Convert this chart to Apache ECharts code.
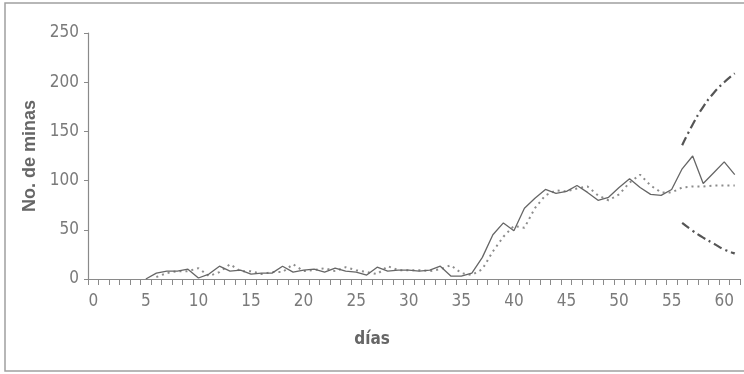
<!DOCTYPE html>
<html>
<head>
<meta charset="utf-8">
<script src="https://cdn.jsdelivr.net/npm/echarts@6/dist/echarts.min.js"></script>
<style>html,body{margin:0;padding:0;background:#fff}#c{width:744px;height:374px}</style>
</head>
<body>
<div id="c"></div>
<script>
var days = [];
for (var d = 0; d <= 61; d++) days.push(String(d));

var observed = [null,null,null,null,null,0,6,8,8,10,1,5,13,8,9,5,6,6,13,7,9,10,7,11,8,7,4,12,8,9,9,8,9,13,3,3,6,22,45,57,49,72,82,91,87,89,95,88,80,83,93,102,93,86,85,91,112,125,97,108,119,106];
var fitted = [null,null,null,null,null,null,2,6,8,8,11,3,7,15,8,8,5,7,7,15,8,9,11,8,12,9,7,5,13,9,9,9,8,10,14,6,4,10,28,43,54,52,72,85,90,89,92,94,85,80,86,98,106,95,88,88,93,94,94,95,95,95];
var upperDays = [56,57,58,59,60,61];
var upperVals = [136,157,175,189,200,209];
var lowerVals = [57,49,42,36,30,26];

function band(vals) {
  var arr = [];
  for (var i = 0; i <= 61; i++) arr.push(null);
  for (var j = 0; j < upperDays.length; j++) arr[upperDays[j]] = vals[j];
  return arr;
}

var FONT = "'Liberation Sans Narrow','Arial Narrow','DejaVu Sans Condensed',sans-serif";
var chart = echarts.init(document.getElementById('c'), null, {renderer: 'canvas'});
chart.setOption({
  animation: false,
  backgroundColor: '#fff',
  graphic: [{
    type: 'rect', shape: {x: 5, y: 3, width: 780, height: 368},
    style: {fill: 'none', stroke: '#a0a0a0', lineWidth: 1.5}, silent: true, z: -1
  }],
  grid: {left: 88, right: 4, top: 33, bottom: 95, containLabel: false},
  xAxis: {
    type: 'category', data: days, boundaryGap: true,
    name: 'días', nameLocation: 'middle', nameGap: 52,
    nameTextStyle: {fontFamily: FONT, fontWeight: 'bold', fontSize: 17, color: '#666', padding: [0, 84, 0, 0]},
    axisLine: {lineStyle: {color: '#8a8a8a', width: 1.2}},
    axisTick: {show: true, interval: 0, length: 6, lineStyle: {color: '#8a8a8a'}},
    axisLabel: {interval: 4, margin: 14, fontFamily: FONT, fontSize: 17, color: '#7a7a7a'},
    splitLine: {show: false}
  },
  yAxis: {
    type: 'value', min: 0, max: 250, interval: 50,
    name: 'No. de minas', nameLocation: 'middle', nameGap: 46,
    nameTextStyle: {fontFamily: "'Liberation Sans','Arial',sans-serif", fontWeight: 'bold', fontSize: 18, color: '#666'},
    axisLine: {show: true, lineStyle: {color: '#8a8a8a', width: 1.2}},
    axisTick: {show: true, length: 4, lineStyle: {color: '#8a8a8a'}},
    axisLabel: {margin: 9, fontFamily: FONT, fontSize: 17, color: '#7a7a7a'},
    splitLine: {show: false}
  },
  series: [
    {type: 'line', data: observed, showSymbol: false, connectNulls: false,
     lineStyle: {color: '#666', width: 1.3}, z: 3},
    {type: 'line', data: fitted, showSymbol: false,
     lineStyle: {color: '#8c8c8c', width: 2, type: [2, 4]}, z: 2},
    {type: 'line', data: band(upperVals), showSymbol: false, smooth: true,
     lineStyle: {color: '#555', width: 2.2, type: [9, 4, 2, 4]}, z: 2},
    {type: 'line', data: band(lowerVals), showSymbol: false, smooth: true,
     lineStyle: {color: '#555', width: 2.2, type: [9, 4, 2, 4]}, z: 2}
  ]
});
</script>
</body>
</html>
